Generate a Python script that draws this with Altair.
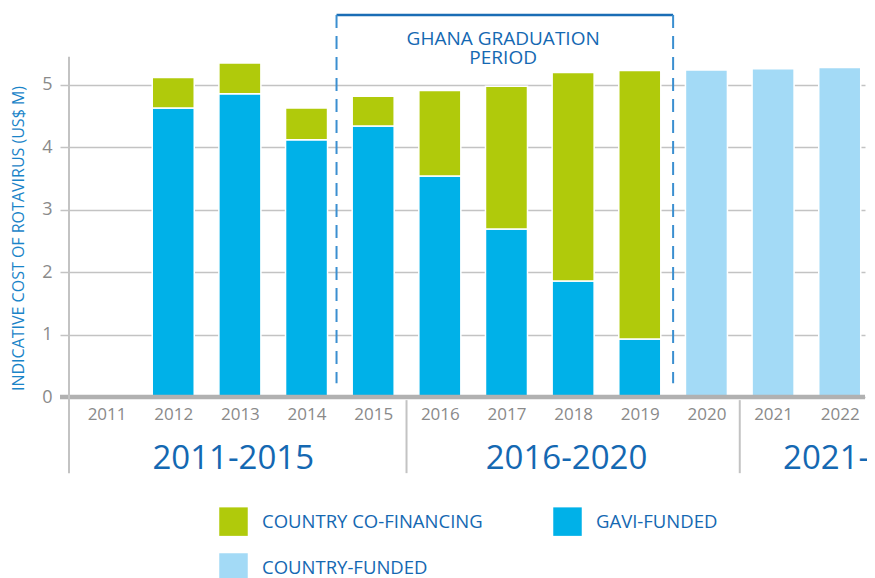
import altair as alt
import pandas as pd

# ---- data ----
years = [2011, 2012, 2013, 2014, 2015, 2016, 2017, 2018, 2019, 2020, 2021, 2022]
gavi_funded = [0, 4.63, 4.86, 4.12, 4.34, 3.54, 2.69, 1.86, 0.93, 0, 0, 0]
co_financing = [0, 0.49, 0.49, 0.51, 0.48, 1.37, 2.29, 3.34, 4.30, 0, 0, 0]
country_funded = [0, 0, 0, 0, 0, 0, 0, 0, 0, 5.24, 5.26, 5.28]

# legend domain order (legend fills column by column)
series_names = ["COUNTRY CO-FINANCING", "COUNTRY-FUNDED", "GAVI-FUNDED"]
series_colors = ["#b0ca0b", "#a3daf6", "#00b1e8"]
stack_order = {"GAVI-FUNDED": 0, "COUNTRY CO-FINANCING": 1, "COUNTRY-FUNDED": 0}

period_labels = ["2011-2015", "2016-2020", "2021-"]
period_x = [2012.9, 2017.9, 2021.15]
period_align = ["center", "center", "left"]
period_dividers = [2015.5, 2020.5]

graduation_text = ["GHANA GRADUATION", "PERIOD"]
graduation_text_y = [5.74, 5.43]
graduation_start, graduation_end = 2014.45, 2019.5

x_domain = [2010.511, 2022.304]
y_top = 6.12

rows = []
for i, yr in enumerate(years):
    for name, vals in (("GAVI-FUNDED", gavi_funded),
                       ("COUNTRY CO-FINANCING", co_financing),
                       ("COUNTRY-FUNDED", country_funded)):
        if vals[i] > 0:
            rows.append({"year": yr, "series": name, "value": vals[i], "ord": stack_order[name]})
bars_df = pd.DataFrame(rows)

W, H = 796, 382
BLUE_TEXT = "#1468b2"
GRID = "#c3c3c3"

xscale = alt.Scale(domain=x_domain, nice=False, zero=False)
yscale = alt.Scale(domain=[0, y_top], nice=False)

bars = alt.Chart(bars_df).mark_bar(width=42, stroke="white", strokeWidth=1.5).encode(
    x=alt.X("year:Q", scale=xscale,
            axis=alt.Axis(values=years, format="d", title=None, grid=False, domain=False,
                          ticks=False, labelPadding=9, labelFontSize=17, labelColor="#8a8a8a",
                          labelFont="Open Sans", labelFlush=False)),
    y=alt.Y("value:Q", stack="zero", scale=yscale,
            axis=alt.Axis(values=[0, 1, 2, 3, 4, 5], format="d", domain=False, tickSize=9,
                          tickColor=GRID, tickWidth=1.5, gridColor=GRID, gridWidth=1.5,
                          labelFontSize=18, labelColor="#8a8a8a", labelFont="Open Sans",
                          labelPadding=8,
                          title="INDICATIVE COST OF ROTAVIRUS (US$ M)",
                          titleFont="Open Sans", titleFontSize=16, titleFontWeight="normal",
                          titleColor="#1a84c8", titleAngle=-90, titleAlign="center",
                          titleBaseline="middle", titleX=-51, titleY=223)),
    color=alt.Color("series:N",
                    scale=alt.Scale(domain=series_names, range=series_colors),
                    legend=alt.Legend(title=None, orient="none", legendX=150, legendY=492,
                                      columns=2, columnPadding=70, rowPadding=17,
                                      symbolType="square", symbolSize=812, symbolStrokeWidth=0,
                                      labelFontSize=18.5, labelFont="Open Sans", labelLimit=0,
                                      labelColor=BLUE_TEXT, labelOffset=14)),
    order=alt.Order("ord:Q"),
)

zero_line = alt.Chart(pd.DataFrame({"y": [0]})).mark_rule(color="#b1b1b1", strokeWidth=4.5).encode(
    y=alt.Y("y:Q", scale=yscale), x=alt.value(-9), x2=alt.value(W)
)

axis_line = alt.Chart(pd.DataFrame({"y": [5.45], "y2": [-1.22]})).mark_rule(
    color=GRID, strokeWidth=2).encode(
    x=alt.value(0), y=alt.Y("y:Q", scale=yscale), y2="y2:Q"
)

dividers = alt.Chart(pd.DataFrame({"x": period_dividers, "y": [-0.05] * 2, "y2": [-1.22] * 2})).mark_rule(
    color=GRID, strokeWidth=2).encode(
    x=alt.X("x:Q", scale=xscale), y=alt.Y("y:Q", scale=yscale), y2="y2:Q"
)

period_df = pd.DataFrame({"label": period_labels, "x": period_x, "align": period_align,
                          "y": [-1.0] * 3})
periods_c = alt.Chart(period_df[period_df["align"] == "center"]).mark_text(
    fontSize=33, font="Open Sans", color=BLUE_TEXT, baseline="middle", align="center").encode(
    x=alt.X("x:Q", scale=xscale), y=alt.Y("y:Q", scale=yscale), text="label:N")
periods_l = alt.Chart(period_df[period_df["align"] == "left"]).mark_text(
    fontSize=33, font="Open Sans", color=BLUE_TEXT, baseline="middle", align="left").encode(
    x=alt.X("x:Q", scale=xscale), y=alt.Y("y:Q", scale=yscale), text="label:N")

bracket_top = alt.Chart(pd.DataFrame({"x": [graduation_start], "x2": [graduation_end], "y": [y_top]})).mark_rule(
    color="#1a6db5", strokeWidth=2.5).encode(
    x=alt.X("x:Q", scale=xscale), x2="x2:Q", y=alt.Y("y:Q", scale=yscale))

bracket_sides = alt.Chart(pd.DataFrame({"x": [graduation_start, graduation_end],
                                        "y": [y_top] * 2, "y2": [0.22] * 2})).mark_rule(
    color="#3b8fd0", strokeWidth=2, strokeDash=[13, 8]).encode(
    x=alt.X("x:Q", scale=xscale), y=alt.Y("y:Q", scale=yscale), y2="y2:Q")

grad_text = alt.Chart(pd.DataFrame({"t": graduation_text, "y": graduation_text_y,
                                    "x": [2016.95] * 2})).mark_text(
    fontSize=19, font="Open Sans", color=BLUE_TEXT, baseline="middle", align="center").encode(
    x=alt.X("x:Q", scale=xscale), y=alt.Y("y:Q", scale=yscale), text="t:N")

chart = alt.layer(
    bars, zero_line, axis_line, dividers, periods_c, periods_l,
    bracket_top, bracket_sides, grad_text
).properties(
    width=W, height=H,
    autosize=alt.AutoSizeParams(type="none"),
    padding={"left": 61, "top": 7, "right": 2, "bottom": 181},
).configure_view(stroke=None)

chart.save("out.html", embed_options={"renderer": "svg", "actions": False})
